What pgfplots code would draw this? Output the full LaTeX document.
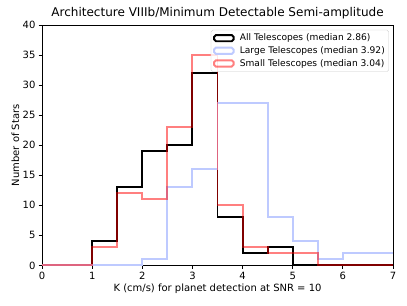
\documentclass[border=0pt]{standalone}
\usepackage{pgfplots}
\pgfplotsset{compat=1.18}
\usepackage{fontspec}
\setmainfont{DejaVu Sans}
\definecolor{lblue}{RGB}{190,202,255}
\begin{document}
\begin{tikzpicture}
\begin{axis}[
  name=ax,
  scale only axis,
  width=397pt, height=272pt,
  xmin=0, xmax=7, ymin=0, ymax=40,
  xtick={0,1,...,7}, ytick={0,5,...,40},
  tick align=outside, tick pos=left,
  major tick length=4pt,
  tick style={black, line width=0.9pt},
  axis line style={line width=0.9pt},
  /pgf/number format/assume math mode=true,
  ticklabel style={font=\fontsize{11.3}{13}\selectfont},
  title={Architecture VIIIb/Minimum Detectable Semi-amplitude},
  title style={font=\fontsize{13.6}{16}\selectfont, yshift=-3pt},
  xlabel={K (cm/s) for planet detection at SNR = 10},
  ylabel={Number of Stars},
  label style={font=\fontsize{11.3}{13}\selectfont},
  xlabel style={yshift=2pt},
  ylabel style={yshift=-3pt},
  legend style={at={(1,1)}, xshift=-4.5pt, yshift=-5.5pt, anchor=north east, font=\fontsize{10.3}{12}\selectfont, draw=black!20, fill=white, fill opacity=0.8, text opacity=1, rounded corners=2pt, inner sep=2.5pt, row sep=1pt, /tikz/every odd column/.append style={column sep=4pt}},
  legend cell align=left,
  legend image code/.code={\draw[#1] (0pt,-3.5pt) rectangle (22pt,3.5pt);},
]
\addplot[const plot mark left, black, line width=2.2pt, mark=none] coordinates {
(0,0)(0.5,0)(1,4)(1.5,13)(2,19)(2.5,20)(3,32)(3.5,8)(4,2)(4.5,3)(5,0)(5.5,0)(6,0)(6.5,0)(7,0)};
\addlegendentry{All Telescopes (median 2.86)}
\addplot[const plot mark left, lblue, line width=2.2pt, mark=none] coordinates {
(0,0)(0.5,0)(1,0)(1.5,0)(2,1)(2.5,13)(3,16)(3.5,27)(4,27)(4.5,8)(5,4)(5.5,1)(6,2)(6.5,2)(7,2)};
\addlegendentry{Large Telescopes (median 3.92)}
\addplot[const plot mark left, red, opacity=0.5, line width=2.2pt, mark=none] coordinates {
(0,0)(0.5,0)(1,3)(1.5,12)(2,11)(2.5,23)(3,35)(3.5,10)(4,3)(4.5,2)(5,2)(5.5,0)(6,0)(6.5,0)(7,0)};
\addlegendentry{Small Telescopes (median 3.04)}
\end{axis}
\path (ax.south west) ++(-47.6pt,-45.3pt) coordinate (bl);
\path (ax.north east) ++(15.9pt,28.3pt) coordinate (tr);
\path (bl) rectangle (tr);
\end{tikzpicture}
\end{document}
